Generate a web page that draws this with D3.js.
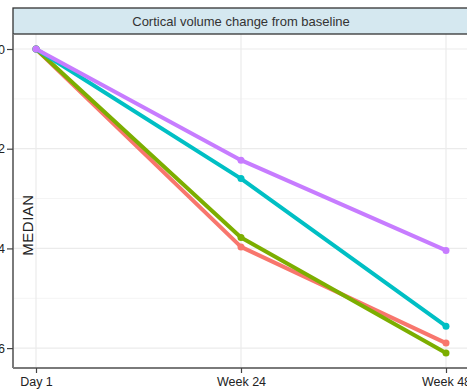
<!DOCTYPE html>
<html><head><meta charset="utf-8">
<script src="https://cdn.jsdelivr.net/npm/d3@7"></script>
<style>body{margin:0;background:#fff;} svg{display:block;font-family:"Liberation Sans",Arial,sans-serif;}</style>
</head><body>
<svg id="c" width="467" height="390"></svg>
<script>
const categories = ["Day 1", "Week 24", "Week 48"];
const seriesNames = ["A", "B", "C", "D"];
const seriesColors = ["#F8766D", "#7CAE00", "#00BFC4", "#C77CFF"];
const valuesA = [0, -0.397, -0.590];
const valuesB = [0, -0.378, -0.610];
const valuesC = [0, -0.260, -0.556];
const valuesD = [0, -0.223, -0.404];
const yTicks = [0, -0.2, -0.4, -0.6];
const yTickLabels = ["0.0", "-0.2", "-0.4", "-0.6"];
const yMinor = [-0.1, -0.3, -0.5];
const title = "Cortical volume change from baseline";
const yTitle = "MEDIAN";

const series = [valuesA, valuesB, valuesC, valuesD];
const svg = d3.select("#c");
const L = 13, R = 469, T = 34, B = 368, stripTop = 8;

const x = d3.scalePoint().domain(categories).range([36, 446]);
const y = d3.scaleLinear().domain([0.0301, -0.6399]).range([T, B]);

// grid
const g = svg.append("g");
g.selectAll(".minor").data(yMinor).join("line")
  .attr("x1", L).attr("x2", R).attr("y1", d => y(d)).attr("y2", d => y(d))
  .attr("stroke", "#f4f4f4").attr("stroke-width", 1);
g.selectAll(".major").data(yTicks).join("line")
  .attr("x1", L).attr("x2", R).attr("y1", d => y(d)).attr("y2", d => y(d))
  .attr("stroke", "#ebebeb").attr("stroke-width", 1.2);
g.selectAll(".vx").data(categories).join("line")
  .attr("x1", d => x(d)).attr("x2", d => x(d)).attr("y1", T).attr("y2", B)
  .attr("stroke", "#ebebeb").attr("stroke-width", 1.2);

// strip
svg.append("rect").attr("x", L).attr("y", stripTop).attr("width", R - L).attr("height", T - stripTop)
  .attr("fill", "#d5e8f0").attr("stroke", "#333").attr("stroke-width", 1.3);
svg.append("text").attr("x", 241).attr("y", (stripTop + T) / 2 + 4.5)
  .attr("text-anchor", "middle").attr("font-size", 13).attr("fill", "#333").text(title);

// lines
const line = d3.line().x((d, i) => x(categories[i])).y(d => y(d));
series.forEach((vals, k) => {
  svg.append("path").datum(vals).attr("d", line).attr("fill", "none")
    .attr("stroke", seriesColors[k]).attr("stroke-width", 4).attr("stroke-linejoin", "round");
  svg.selectAll(".p" + k).data(vals).join("circle")
    .attr("cx", (d, i) => x(categories[i])).attr("cy", d => y(d)).attr("r", 3.5)
    .attr("fill", seriesColors[k]);
});

// axes
const ya = svg.append("g").attr("transform", `translate(${L},0)`)
  .call(d3.axisLeft(y).tickValues(yTicks).tickFormat((d, i) => yTickLabels[i]).tickSize(6).tickPadding(2));
const xa = svg.append("g").attr("transform", `translate(0,${B})`)
  .call(d3.axisBottom(x).tickSize(5).tickPadding(4));
[ya, xa].forEach(a => {
  a.select(".domain").attr("stroke", "#7a7a7a").attr("stroke-width", 2);
  a.selectAll(".tick line").attr("stroke", "#444").attr("stroke-width", 1.2);
  a.selectAll(".tick text").attr("fill", "#222").attr("font-size", 12.5)
    .attr("font-family", '"Liberation Sans",Arial,sans-serif');
});
xa.select(".domain").attr("d", `M${L},0H${R}`);
ya.select(".domain").attr("d", `M0,${T}V${B}`);

svg.append("text").attr("transform", `translate(33,225) rotate(-90)`)
  .attr("text-anchor", "middle").attr("font-size", 15).attr("fill", "#222").attr("letter-spacing", 0.5).text(yTitle);
</script>
</body></html>
